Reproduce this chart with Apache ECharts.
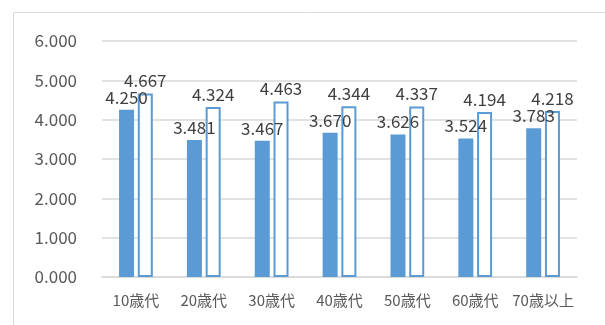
<!DOCTYPE html>
<html><head><meta charset="utf-8">
<script src="https://cdn.jsdelivr.net/npm/echarts@6/dist/echarts.min.js"></script>
<style>html,body{margin:0;padding:0;background:#fff;}#c{width:605px;height:325px;}</style>
</head><body><div id="c"></div>
<script>
const categories = ['10歳代','20歳代','30歳代','40歳代','50歳代','60歳代','70歳以上'];
const seriesA = [4.250, 3.481, 3.467, 3.670, 3.626, 3.524, 3.783];
const seriesB = [4.667, 4.324, 4.463, 4.344, 4.337, 4.194, 4.218];
const yMin = 0, yMax = 6, yStep = 1;

const font = '"Noto Sans CJK JP", "Noto Sans", sans-serif';
const chart = echarts.init(document.getElementById('c'), null, {renderer:'canvas'});
const labelStyle = {show:true, position:'top', distance:4, color:'#404040', fontSize:17, fontFamily:font,
  formatter: p => p.value.toFixed(3)};
chart.setOption({
  animation:false,
  graphic:[{type:'rect', shape:{x:13.5, y:12.5, width:700, height:400}, style:{fill:'none', stroke:'#d9d9d9', lineWidth:1}, silent:true}],
  grid:{left:102, right:28, top:41, bottom:48},
  xAxis:{type:'category', data:categories,
    axisLine:{show:true, lineStyle:{color:'#d9d9d9', width:1.5}}, axisTick:{show:false},
    axisLabel:{interval:0, color:'#595959', fontSize:15, fontFamily:font, margin:16}},
  yAxis:{type:'value', min:yMin, max:yMax, interval:yStep,
    axisLine:{show:false}, axisTick:{show:false},
    splitLine:{lineStyle:{color:'#d9d9d9', width:1.5}},
    axisLabel:{color:'#595959', fontSize:17, fontFamily:font, margin:25, formatter: v => v.toFixed(3)}},
  series:[
    {type:'bar', data:seriesA, barWidth:15, barGap:'25%', itemStyle:{color:'#5b9bd5'}, label:labelStyle},
    {type:'bar', data:seriesB, barWidth:15, itemStyle:{color:'#ffffff', borderColor:'#5b9bd5', borderWidth:2}, label:labelStyle}
  ]
});
</script></body></html>
